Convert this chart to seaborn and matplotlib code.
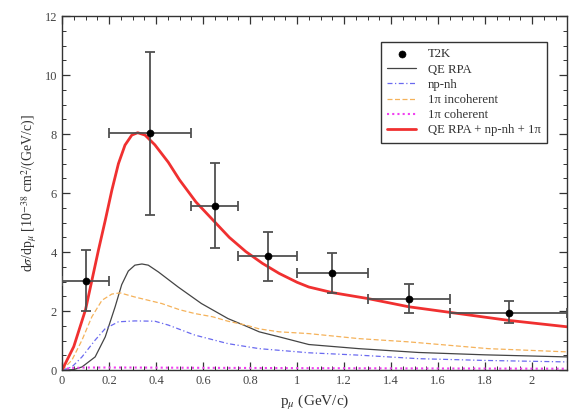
import numpy as np
import pandas as pd
import matplotlib
matplotlib.use("Agg")
import matplotlib.pyplot as plt
from matplotlib.ticker import MultipleLocator, FixedLocator
import seaborn as sns

# T2K data
t2k_x = [0.10, 0.375, 0.65, 0.875, 1.15, 1.475, 1.90]
t2k_y = [3.03, 8.03, 5.57, 3.86, 3.28, 2.42, 1.94]
t2k_xlo = [0.00, 0.20, 0.55, 0.75, 1.00, 1.30, 1.65]
t2k_xhi = [0.20, 0.55, 0.75, 1.00, 1.30, 1.65, 2.15]
t2k_ylo = [2.02, 5.27, 4.15, 3.03, 2.62, 1.93, 1.59]
t2k_yhi = [4.08, 10.80, 7.02, 4.70, 3.98, 2.92, 2.35]

# Theory curves
tot_x = [0, 0.05, 0.10, 0.155, 0.184, 0.212, 0.24, 0.268, 0.297, 0.322, 0.353, 0.395, 0.452, 0.50, 0.57, 0.641, 0.712, 0.782, 0.853, 0.924, 1.00, 1.05, 1.15, 1.30, 1.475, 1.65, 1.898, 2.15]
tot_y = [0, 0.80, 2.05, 4.07, 5.08, 6.10, 7.00, 7.63, 7.97, 8.05, 7.97, 7.64, 7.05, 6.45, 5.70, 5.10, 4.50, 4.02, 3.62, 3.28, 2.98, 2.82, 2.63, 2.43, 2.15, 1.96, 1.69, 1.47]

qe_x = [0, 0.05, 0.085, 0.141, 0.184, 0.226, 0.254, 0.282, 0.31, 0.34, 0.367, 0.41, 0.494, 0.593, 0.706, 0.79, 0.839, 0.924, 1.05, 1.263, 1.517, 1.80, 2.15]
qe_y = [0, 0.02, 0.11, 0.45, 1.13, 2.15, 2.90, 3.36, 3.56, 3.60, 3.56, 3.33, 2.82, 2.26, 1.75, 1.47, 1.30, 1.13, 0.87, 0.73, 0.60, 0.52, 0.45]

npnh_x = [0, 0.042, 0.085, 0.141, 0.184, 0.24, 0.31, 0.395, 0.452, 0.565, 0.706, 0.839, 1.05, 1.263, 1.517, 1.80, 2.15]
npnh_y = [0, 0.11, 0.45, 1.02, 1.41, 1.64, 1.67, 1.66, 1.53, 1.19, 0.90, 0.73, 0.59, 0.51, 0.39, 0.33, 0.28]

inc_x = [0, 0.042, 0.085, 0.127, 0.17, 0.212, 0.247, 0.31, 0.424, 0.50, 0.565, 0.641, 0.706, 0.782, 0.839, 0.924, 1.05, 1.263, 1.475, 1.814, 2.15]
inc_y = [0, 0.34, 1.02, 1.81, 2.37, 2.58, 2.62, 2.48, 2.26, 2.05, 1.92, 1.81, 1.66, 1.53, 1.40, 1.30, 1.24, 1.07, 0.96, 0.73, 0.62]

coh_x = [0, 0.03, 0.10, 0.30, 0.60, 1.00, 1.50, 2.15]
coh_y = [0, 0.07, 0.09, 0.09, 0.08, 0.07, 0.06, 0.05]

x_ticks = [0, 0.2, 0.4, 0.6, 0.8, 1.0, 1.2, 1.4, 1.6, 1.8, 2.0]
x_ticklabels = ["0", "0.2", "0.4", "0.6", "0.8", "1", "1.2", "1.4", "1.6", "1.8", "2"]
y_ticks = [0, 2, 4, 6, 8, 10, 12]

sns.set_style("ticks")
plt.rcParams['font.family'] = ['Liberation Serif', 'DejaVu Serif']
plt.rcParams['mathtext.fontset'] = 'stix'

fig = plt.figure(figsize=(5.69, 4.15), dpi=100)
ax = fig.add_axes([0.109, 0.108, 0.888, 0.853])

sns.lineplot(x=qe_x, y=qe_y, ax=ax, color='#444444', lw=0.9, label='QE RPA', sort=False)
sns.lineplot(x=npnh_x, y=npnh_y, ax=ax, color='#6a6af0', lw=0.9, label='np-nh', sort=False)
sns.lineplot(x=inc_x, y=inc_y, ax=ax, color='#f5b25a', lw=0.9, label='1π incoherent', sort=False)
sns.lineplot(x=coh_x, y=coh_y, ax=ax, color='#f040f0', lw=1.5, label='1π coherent', sort=False)
sns.lineplot(x=tot_x, y=tot_y, ax=ax, color='#f03030', lw=2.0, label='QE RPA + np-nh + 1π', sort=False)
lines = ax.get_lines()
lines[1].set_dashes([4, 2, 1, 2])
lines[2].set_dashes([4, 2])
lines[3].set_dashes([1, 1.5])

tx = np.array(t2k_x); ty = np.array(t2k_y)
xerr = [tx - np.array(t2k_xlo), np.array(t2k_xhi) - tx]
yerr = [ty - np.array(t2k_ylo), np.array(t2k_yhi) - ty]
ax.errorbar(tx, ty, xerr=xerr, yerr=yerr, fmt='none', ecolor='#505050', elinewidth=1.3, capsize=3.5, capthick=1.3, zorder=5)
sns.scatterplot(x=t2k_x, y=t2k_y, ax=ax, color='black', s=26, marker='o', edgecolor='black', zorder=6, label='T2K')

ax.set_xlim(0, 2.15)
ax.set_ylim(0, 12)
ax.xaxis.set_major_locator(FixedLocator(x_ticks))
ax.set_xticklabels(x_ticklabels)
ax.xaxis.set_minor_locator(MultipleLocator(0.05))
ax.yaxis.set_major_locator(FixedLocator(y_ticks))
ax.yaxis.set_minor_locator(MultipleLocator(0.5))
ax.tick_params(which='both', direction='in', top=True, right=True, colors='#333333', labelsize=9, labelcolor='#444444')
ax.tick_params(which='major', length=6, width=0.9)
ax.tick_params(which='minor', length=3, width=0.7)
for s in ax.spines.values():
    s.set_linewidth(1.0)
    s.set_color('#333333')

ax.set_xlabel(r'p$_\mu$ (GeV/c)', fontsize=11, color='#333333')
ax.set_ylabel(r'd$\sigma$/dp$_\mu$ [10$^{-38}$ cm$^2$/(GeV/c)]', fontsize=10, color='#333333')

handles, labels = ax.get_legend_handles_labels()
order = [labels.index(l) for l in ['T2K', 'QE RPA', 'np-nh', '1π incoherent', '1π coherent', 'QE RPA + np-nh + 1π']]
leg = ax.legend([handles[i] for i in order], [labels[i] for i in order],
                loc='upper right', bbox_to_anchor=(0.960, 0.927), borderaxespad=0,
                fontsize=9.2, frameon=True,
                fancybox=False, edgecolor='#333333', framealpha=1, handlelength=2.3,
                labelspacing=0.25, borderpad=0.5, handletextpad=0.9)
leg.get_frame().set_linewidth(1.0)
for t in leg.get_texts():
    t.set_color('#333333')

fig.savefig('out.png', dpi=100)
